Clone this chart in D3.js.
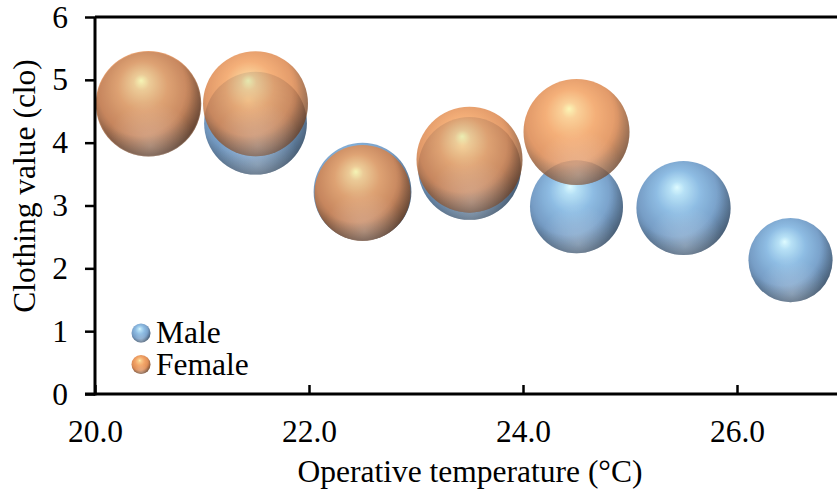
<!DOCTYPE html>
<html>
<head>
<meta charset="utf-8">
<script src="https://cdn.jsdelivr.net/npm/d3@7"></script>
</head>
<body style="margin:0;padding:0;background:#fff;overflow:hidden">
<svg id="chart" width="837" height="492" style="display:block"></svg>
<script>
// Operative temperature bins (°C)
const temps = [20.5, 21.5, 22.5, 23.5, 24.5, 25.5, 26.5];
// Mean clothing value (clo) per bin
const maleClo   = [4.62, 4.31, 3.22, 3.59, 2.98, 2.96, 2.13];
const femaleClo = [4.62, 4.62, 3.20, 3.73, 4.17];
// Relative bubble sizes (area-proportional)
const maleSize   = [0.96, 0.94, 0.85, 0.94, 0.77, 0.79, 0.63];
const femaleSize = [0.99, 0.98, 0.82, 1.00, 1.00];
// Axis ticks
const xTicks = [20, 22, 24, 26];
const yTicks = [0, 1, 2, 3, 4, 5, 6];
const seriesNames = ["Male", "Female"];

const FONT = '"Times New Roman", "Liberation Serif", Tinos';
const FONT_SIZE = 31.5;

const svg = d3.select("#chart");
const plot = { left: 95, top: 17, right: 844, bottom: 394 };

const x = d3.scaleLinear().domain([20, 27]).range([plot.left, plot.right]);
const y = d3.scaleLinear().domain([0, 6]).range([plot.bottom, plot.top]);
const r = d3.scaleSqrt().domain([0, 1]).range([0, 53]);

function setFont(sel) {
  sel.attr("font-family", FONT).attr("font-size", FONT_SIZE)
    .style("font-family", FONT).style("font-size", FONT_SIZE + "px");
}

// Sphere shading gradients
const defs = svg.append("defs");
function sphereGradient(id, stops) {
  const g = defs.append("radialGradient").attr("id", id)
    .attr("cx", "0.47").attr("cy", "0.42").attr("r", "0.62")
    .attr("fx", "0.43").attr("fy", "0.28");
  stops.forEach(([o, c]) => g.append("stop").attr("offset", o).attr("stop-color", c));
}
sphereGradient("maleBall", [
  [0, "#dcfbff"], [0.12, "#b4e0f6"], [0.38, "#88b9e2"],
  [0.7, "#7099c4"], [0.9, "#58799c"], [1, "#4d6a8a"]
]);
sphereGradient("femaleBall", [
  [0, "#fcf4a4"], [0.12, "#f9c680"], [0.38, "#f29c58"],
  [0.7, "#da8044"], [0.9, "#985a32"], [1, "#7a4628"]
]);
// Soft reflected light near the lower rim
const refl = defs.append("radialGradient").attr("id", "reflect")
  .attr("cx", "0.52").attr("cy", "0.9").attr("r", "0.42");
refl.append("stop").attr("offset", 0).attr("stop-color", "#fff").attr("stop-opacity", 0.28);
refl.append("stop").attr("offset", 1).attr("stop-color", "#fff").attr("stop-opacity", 0);
// Darker shade toward the lower right
const shade = defs.append("radialGradient").attr("id", "shade")
  .attr("cx", "0.4").attr("cy", "0.35").attr("r", "0.75");
shade.append("stop").attr("offset", 0.6).attr("stop-color", "#000").attr("stop-opacity", 0);
shade.append("stop").attr("offset", 1).attr("stop-color", "#000").attr("stop-opacity", 0.35);

function drawBall(g, cx, cy, rad, grad, opacity) {
  const b = g.append("g").attr("opacity", opacity);
  b.append("circle").attr("cx", cx).attr("cy", cy).attr("r", rad).attr("fill", `url(#${grad})`);
  b.append("circle").attr("cx", cx).attr("cy", cy).attr("r", rad).attr("fill", "url(#shade)");
  b.append("circle").attr("cx", cx).attr("cy", cy).attr("r", rad).attr("fill", "url(#reflect)");
}

// Bubbles: male series first, female drawn on top (semi-transparent)
const bubbles = svg.append("g");
maleClo.forEach((v, i) => drawBall(bubbles, x(temps[i]), y(v), r(maleSize[i]), "maleBall", 0.95));
femaleClo.forEach((v, i) => drawBall(bubbles, x(temps[i]), y(v), r(femaleSize[i]), "femaleBall", 0.8));

// Plot frame (top and right edges)
svg.append("path")
  .attr("d", `M${plot.left},${plot.top}H${plot.right}V${plot.bottom}`)
  .attr("fill", "none").attr("stroke", "#000").attr("stroke-width", 3);

const xAxis = svg.append("g").attr("transform", `translate(0,${plot.bottom})`)
  .call(d3.axisBottom(x).tickValues(xTicks).tickFormat(d3.format(".1f"))
    .tickSizeInner(-9).tickSizeOuter(0).tickPadding(26));
const yAxis = svg.append("g").attr("transform", `translate(${plot.left},0)`)
  .call(d3.axisLeft(y).tickValues(yTicks).tickFormat(d3.format("d"))
    .tickSizeInner(10).tickSizeOuter(0).tickPadding(17));

[xAxis, yAxis].forEach(a => {
  setFont(a);
  a.select(".domain").attr("stroke", "#000").attr("stroke-width", 3);
  a.selectAll(".tick line").attr("stroke", "#000").attr("stroke-width", 2.5);
  a.selectAll(".tick text").attr("fill", "#000").call(setFont);
});
xAxis.selectAll(".tick text").attr("dy", "0.71em");
xAxis.select(".domain").attr("d", `M${plot.left - 10},0H${plot.right}`);
yAxis.select(".domain").attr("d", `M0,${plot.top}V${plot.bottom + 1.5}`);

// Axis titles
svg.append("text")
  .attr("x", 470).attr("y", 482)
  .attr("text-anchor", "middle").call(setFont)
  .text("Operative temperature (°C)");
svg.append("text")
  .attr("transform", "translate(35,186) rotate(-90)")
  .attr("text-anchor", "middle").call(setFont)
  .text("Clothing value (clo)");

// Legend
const legend = svg.append("g");
const legendGrads = ["maleBall", "femaleBall"];
seriesNames.forEach((name, i) => {
  const ly = 333 + i * 31.5;
  drawBall(legend, 141, ly, 9.5, legendGrads[i], i === 0 ? 0.95 : 0.9);
  legend.append("text").attr("x", 156).attr("y", ly + 10).call(setFont).text(name);
});
</script>
</body>
</html>
